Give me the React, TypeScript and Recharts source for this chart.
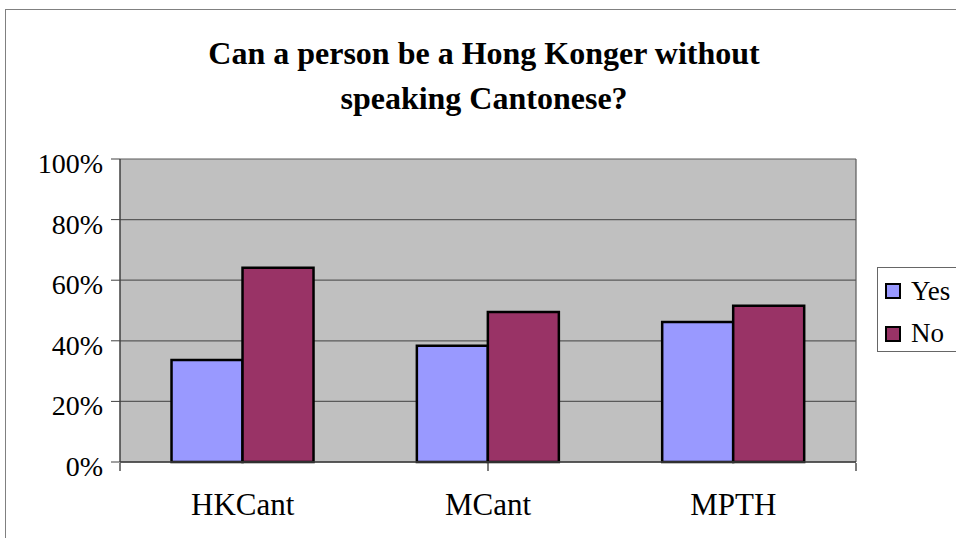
import React from "react";
import { BarChart, Bar, XAxis, YAxis, CartesianGrid } from "recharts";

const groups = ["HKCant", "MCant", "MPTH"];
const yesValues = [33.7, 38.4, 46.2];
const noValues = [64.1, 49.5, 51.6];
const yTicks = [0, 20, 40, 60, 80, 100];
const titleLines = ["Can a person be a Hong Konger without", "speaking Cantonese?"];

const series = [
  { key: "yes", label: "Yes", color: "#9999ff" },
  { key: "no", label: "No", color: "#993366" },
];

const data = groups.map((name, i) => ({ name, yes: yesValues[i], no: noValues[i] }));

const SERIF = '"Liberation Serif", "Times New Roman", serif';

const YTick = ({ x, y, payload }: any) => (
  <text x={x} y={y} dy={14} textAnchor="end" fontFamily={SERIF} fontSize={28} fill="#000">
    {payload.value}%
  </text>
);

const XTick = ({ x, y, payload }: any) => (
  <text x={x} y={y} dy={53} textAnchor="middle" fontFamily={SERIF} fontSize={31} fill="#000">
    {payload.value}
  </text>
);

// tick marks only, between the category groups
const NoLabel = () => <g />;

export default function App() {
  return (
    <div
      style={{
        position: "absolute",
        left: 0,
        top: 0,
        width: 956,
        height: 538,
        overflow: "hidden",
        background: "#fff",
        fontFamily: SERIF,
      }}
    >
      {/* chart frame, runs off the right and bottom edges */}
      <div
        style={{
          position: "absolute",
          left: 5,
          top: 9,
          width: 1100,
          height: 700,
          border: "1.5px solid #808080",
        }}
      />

      <div
        style={{
          position: "absolute",
          left: 0,
          top: 31,
          width: 968,
          textAlign: "center",
          fontSize: 32,
          fontWeight: "bold",
          lineHeight: "45px",
        }}
      >
        {titleLines.map((t) => (
          <div key={t}>{t}</div>
        ))}
      </div>

      <div style={{ position: "absolute", left: 0, top: 0 }}>
        <BarChart
          width={956}
          height={538}
          data={data}
          margin={{ top: 159, right: 100, left: 0, bottom: 0 }}
          barGap={0}
          barCategoryGap="21%"
        >
          <CartesianGrid
            fill="#c0c0c0"
            stroke="#5a5a5a"
            strokeWidth={1.2}
            verticalPoints={[856]}
          />
          <XAxis
            dataKey="name"
            tickLine={false}
            tick={<XTick />}
            tickSize={0}
            tickMargin={0}
            height={1}
            axisLine={{ stroke: "#404040", strokeWidth: 1.5 }}
          />
          <XAxis
            xAxisId="edges"
            type="number"
            domain={[0, 3]}
            ticks={[0, 1, 2, 3]}
            tick={<NoLabel />}
            axisLine={false}
            tickLine={{ stroke: "#505050", strokeWidth: 1.5 }}
            tickSize={8}
            height={75}
          />
          <YAxis
            width={120}
            domain={[0, 100]}
            ticks={yTicks}
            tick={<YTick />}
            tickSize={9}
            tickMargin={8}
            tickLine={{ stroke: "#404040" }}
            axisLine={{ stroke: "#404040", strokeWidth: 1.5 }}
          />
          {series.map((s) => (
            <Bar
              key={s.key}
              dataKey={s.key}
              fill={s.color}
              stroke="#000"
              strokeWidth={2.5}
              isAnimationActive={false}
            />
          ))}
        </BarChart>
      </div>

      {/* legend box */}
      <svg
        style={{ position: "absolute", left: 877, top: 267 }}
        width={90}
        height={86}
      >
        <rect x={0.5} y={0.5} width={120} height={84} fill="#fff" stroke="#666" />
        {series.map((s, i) => (
          <g key={s.key}>
            <rect
              x={9}
              y={17 + i * 43}
              width={14}
              height={14}
              fill={s.color}
              stroke="#000"
              strokeWidth={2}
            />
            <text x={34} y={33 + i * 42} fontFamily={SERIF} fontSize={27} fill="#000">
              {s.label}
            </text>
          </g>
        ))}
      </svg>
    </div>
  );
}
